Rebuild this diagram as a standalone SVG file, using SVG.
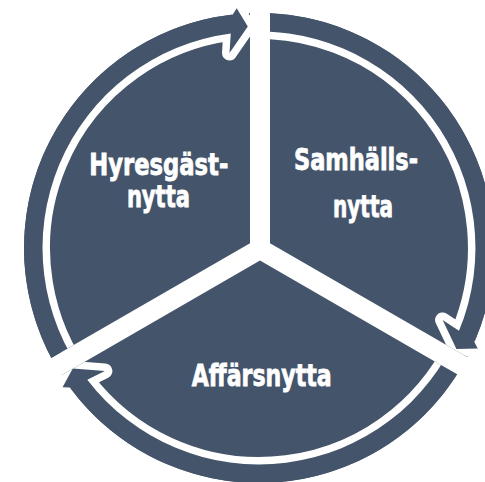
<svg xmlns="http://www.w3.org/2000/svg" xmlns:xlink="http://www.w3.org/1999/xlink" width="485" height="482" viewBox="0 0 485 482">
  <style>
    .seg { fill: #44546A; }
    .halo { fill: none; stroke: #FFFFFF; stroke-width: 15; stroke-linejoin: round; stroke-linecap: round; }
    .arrow { fill: #44546A; }
    .lbl { font-family: "Liberation Sans Narrow", "DejaVu Sans Condensed", "Liberation Sans", sans-serif; font-weight: bold; font-size: 31px; fill: #FFFFFF; stroke: #FFFFFF; stroke-width: 0.8; text-anchor: middle; }
  </style>
  <defs>
    <clipPath id="c1"><polygon points="250,-20 250,243.23 -96.4,443.23 -100,-20"/></clipPath>
    <clipPath id="c2"><polygon points="270,-20 620,-20 616.4,443.23 270,243.23"/></clipPath>
    <clipPath id="c3"><polygon points="260,260.55 606.4,460.55 606,700 -86,700 -86.4,460.55"/></clipPath>
    <path id="arrowHalo" class="halo" d="M 86.1 378.3 A 216.5 216.5 0 0 1 230.75 33.4 L 229.5 53 L 247.8 26.5 L 236.7 8.3"/>
    <path id="arrowFill" class="arrow" d="M 71.3 389.4 A 235 235 0 0 1 232.8 14.5 L 236.7 8.3 L 247.8 26.5 L 229.5 53 L 230.75 33.4 A 216.5 216.5 0 0 0 86.1 378.3 Z"/>
  </defs>

  <g id="node-hyresgast">
    <circle class="seg" cx="259" cy="248" r="235" clip-path="url(#c1)"/>
    <text class="lbl" x="158.8" y="175" textLength="139" lengthAdjust="spacingAndGlyphs">Hyresgäst-</text>
    <text class="lbl" x="158.4" y="207" textLength="63" lengthAdjust="spacingAndGlyphs">nytta</text>
  </g>

  <g id="node-samhalls">
    <circle class="seg" cx="259" cy="248" r="235" clip-path="url(#c2)"/>
    <text class="lbl" x="356" y="169.5" textLength="124" lengthAdjust="spacingAndGlyphs">Samhälls-</text>
    <text class="lbl" x="363" y="217" textLength="60" lengthAdjust="spacingAndGlyphs">nytta</text>
  </g>

  <g id="node-affars">
    <circle class="seg" cx="259" cy="248" r="235" clip-path="url(#c3)"/>
    <text class="lbl" x="261.7" y="386" textLength="140" lengthAdjust="spacingAndGlyphs">Affärsnytta</text>
  </g>

  <g id="connectors">
    <g clip-path="url(#c1)">
      <use xlink:href="#arrowHalo"/>
      <use xlink:href="#arrowFill"/>
    </g>
    <g clip-path="url(#c2)">
      <use xlink:href="#arrowHalo" transform="rotate(120 259 248)"/>
      <use xlink:href="#arrowFill" transform="rotate(120 259 248)"/>
    </g>
    <g clip-path="url(#c3)">
      <use xlink:href="#arrowHalo" transform="rotate(240 259 248)"/>
      <use xlink:href="#arrowFill" transform="rotate(240 259 248)"/>
    </g>
  </g>
</svg>
